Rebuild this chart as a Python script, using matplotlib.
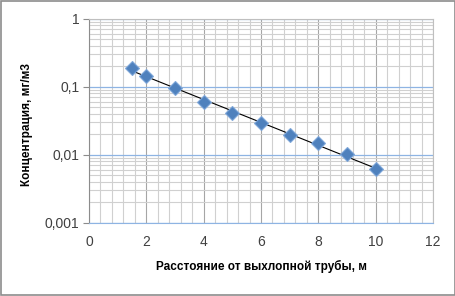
import numpy as np
import matplotlib
matplotlib.use("Agg")
import matplotlib.pyplot as plt
from matplotlib.patches import Rectangle
from matplotlib.ticker import FixedLocator, MultipleLocator, NullFormatter

# Данные: расстояние (м) и концентрация (мг/м3)
distance = [1.5, 2, 3, 4, 5, 6, 7, 8, 9, 10]
concentration = [0.186, 0.143, 0.094, 0.060, 0.0405, 0.0287, 0.0195, 0.0147, 0.0101, 0.0061]

x_ticks = [0, 2, 4, 6, 8, 10, 12]
y_ticks = [0.001, 0.01, 0.1, 1]
y_tick_labels = ["0,001", "0,01", "0,1", "1"]

plt.rcParams['font.family'] = ['Liberation Sans', 'DejaVu Sans']

fig = plt.figure(figsize=(4.56, 2.96), dpi=100)
ax = fig.add_axes([89 / 456, 1 - 222.7 / 296, (433 - 89) / 456, (222.7 - 18.5) / 296])

# Линия тренда (экспоненциальная)
k, b = np.polyfit(distance, np.log(concentration), 1)
xt = np.linspace(min(distance), max(distance), 50)
ax.plot(xt, np.exp(b + k * xt), color='black', lw=0.8, zorder=3)

ax.plot(distance, concentration, linestyle='none', marker='D', markersize=7.5,
        markerfacecolor='#4F81BD', markeredgecolor='#7FA7D9', markeredgewidth=0.8, zorder=4)

ax.set_yscale('log')
ax.set_xlim(0, 12)
ax.set_ylim(0.001, 1)

ax.set_xticks(x_ticks)
ax.set_xticklabels([str(v) for v in x_ticks])
ax.xaxis.set_minor_locator(MultipleLocator(0.4))
ax.set_yticks(y_ticks)
ax.set_yticklabels(y_tick_labels)
ax.yaxis.set_minor_locator(FixedLocator([m * 10.0 ** e for e in range(-3, 0) for m in range(2, 10)]))
ax.yaxis.set_minor_formatter(NullFormatter())

ax.grid(which='minor', axis='both', color='#D0D0D0', lw=0.8)
ax.grid(which='major', axis='x', color='#A6A6A6', lw=0.8)
ax.grid(which='major', axis='y', color='#8EB4E3', lw=0.9)

ax.tick_params(axis='x', which='both', length=0, pad=9, labelsize=10, colors='#404040')
ax.tick_params(axis='y', which='major', length=4, color='#8C8C8C', pad=3, labelsize=10, labelcolor='#404040')
ax.tick_params(axis='y', which='minor', length=0)

for side in ['top', 'right']:
    ax.spines[side].set_color('#BFBFBF')
    ax.spines[side].set_linewidth(0.8)
ax.spines['left'].set_color('#8C8C8C')
ax.spines['bottom'].set_color('#8EB4E3')
ax.set_axisbelow(True)

ax.set_xlabel("Расстояние от выхлопной трубы, м", fontsize=8.5, fontweight='bold', va='center')
ax.set_ylabel("Концентрация, мг/м3", fontsize=8.5, fontweight='bold', va='center')
ax.xaxis.set_label_coords((262 - 89) / 344, (222.7 - 266) / 204.2)
ax.yaxis.set_label_coords((27 - 89) / 344, (222.7 - 125) / 204.2)

fig.patches.append(Rectangle((0.002, 0.003), 0.995, 0.994, transform=fig.transFigure,
                             fill=False, edgecolor='#8C8C8C', lw=1.2))

fig.savefig("out.png", dpi=100)
